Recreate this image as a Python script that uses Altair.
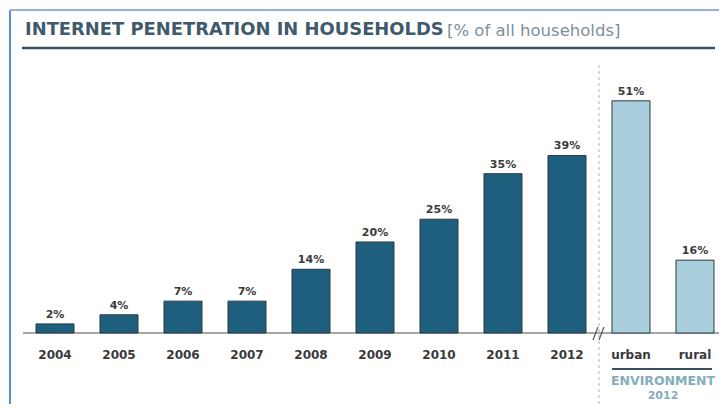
import altair as alt
import pandas as pd

categories = ["2004", "2005", "2006", "2007", "2008", "2009", "2010", "2011", "2012", "urban", "rural"]
values = [2, 4, 7, 7, 14, 20, 25, 35, 39, 51, 16]
groups = ["year"] * 9 + ["env"] * 2

df = pd.DataFrame({"cat": categories, "val": values, "grp": groups})
df["label"] = df["val"].astype(str) + "%"

W, H = 711, 325

xs = alt.Scale(domain=categories, range=[15, 719], paddingInner=0.406, paddingOuter=0.203)
ys = alt.Scale(domain=[0, 71.4], range=[H, 0], nice=False)

x = alt.X("cat:N", scale=xs, sort=categories,
          axis=alt.Axis(title=None, labelAngle=0, ticks=False, domain=False,
                        labelFont="DejaVu Sans", labelFontWeight="bold",
                        labelFontSize=12, labelColor="#3a3a3a", labelPadding=16))
y = alt.Y("val:Q", scale=ys, axis=None)

bars = alt.Chart(df).mark_bar(stroke="#2b3a44", strokeWidth=1).encode(
    x=x, y=y,
    color=alt.Color("grp:N", scale=alt.Scale(domain=["year", "env"], range=["#1f5f7e", "#a9cfdc"]), legend=None),
)

labels = alt.Chart(df).mark_text(dy=-9, font="DejaVu Sans", fontWeight="bold",
                                 fontSize=11, color="#3a3a3a").encode(
    x=alt.X("cat:N", scale=xs, sort=categories), y=y, text="label:N")

def rule(x1, x2, y1, y2, color, width=1, dash=None):
    kw = dict(color=color, strokeWidth=width)
    if dash:
        kw["strokeDash"] = dash
    return alt.Chart(df.head(1)).mark_rule(**kw).encode(
        x=alt.value(x1), x2=alt.value(x2), y=alt.value(y1), y2=alt.value(y2))

def txt(s, xv, yv, size, color, weight="normal", align="left", font="DejaVu Sans"):
    return alt.Chart(pd.DataFrame({"t": [s]})).mark_text(
        font=font, fontSize=size, color=color, fontWeight=weight,
        align=align, baseline="middle").encode(x=alt.value(xv), y=alt.value(yv), text="t:N")

# frame and title
frame_left = rule(2, 2, 2, 396, "#5b8bd6", 2)
frame_top = rule(2, 711, 2, 2, "#8fb2e3", 2)
title_line = rule(14, 707, 40, 40, "#37505f", 2.5)
t1 = txt("INTERNET PENETRATION IN HOUSEHOLDS", 17, 22, 17.9, "#3f5a6c", "bold")
t2 = txt("[%  of all households]", 439, 23, 16.5, "#7d8f9b")

# baseline axis
base = rule(15, 711, H, H, "#8a8a8a", 1.5)
divider = rule(591, 591, 57, 400, "#9fb7c2", 1, [3, 3])
brk1 = rule(585, 590, H + 7, H - 6, "#555555", 1.2)
brk2 = rule(591, 596, H + 7, H - 6, "#555555", 1.2)
env_line = rule(604, 704, 361, 361, "#37505f", 2)
env1 = txt("ENVIRONMENT", 655, 373, 12.5, "#84adbe", "bold", "center")
env2 = txt("2012", 655, 388, 11, "#84adbe", "bold", "center")

chart = alt.layer(
    frame_left, frame_top, title_line, t1, t2, base, divider, bars, labels,
    brk1, brk2, env_line, env1, env2
).properties(
    width=W, height=H,
    autosize=alt.AutoSizeParams(type="none"),
    padding={"left": 0, "top": 0, "right": 0, "bottom": 71},
).configure_view(stroke=None)

chart.save("out.html", embed_options={"renderer": "svg", "actions": False})
